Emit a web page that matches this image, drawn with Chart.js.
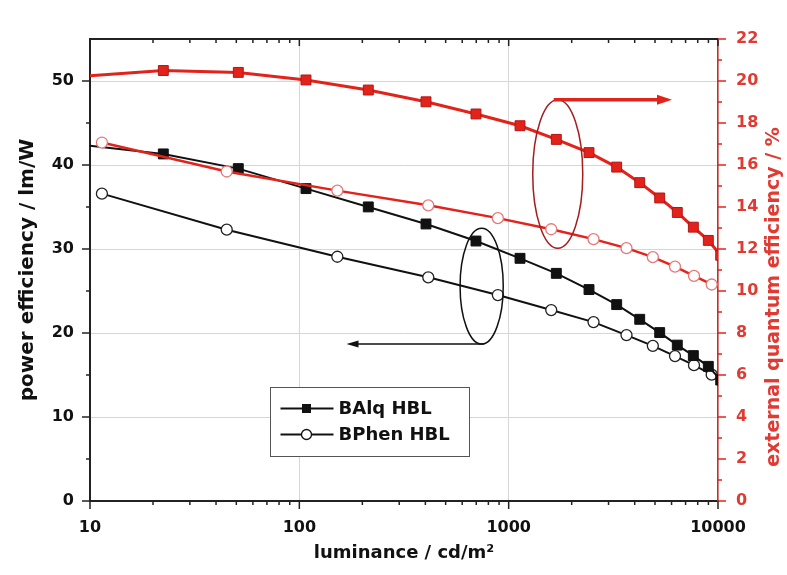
<!DOCTYPE html>
<html><head><meta charset="utf-8">
<script src="https://cdn.jsdelivr.net/npm/chart.js@4.4.1/dist/chart.umd.min.js"></script>
<style>html,body{margin:0;padding:0;background:#fff}#wrap{width:787px;height:575px;position:relative}</style>
</head><body><div id="wrap"><canvas id="c" width="787" height="575"></canvas></div>
<script>
// ---- data ----
const balqLum  = [6, 22.4, 51.1, 107.6, 213.5, 402.8, 698, 1133, 1689, 2420, 3281, 4227, 5266, 6391, 7624, 8989, 10300];
const balqPE   = [42.9, 41.32, 39.57, 37.19, 35.01, 32.98, 30.95, 28.89, 27.10, 25.17, 23.38, 21.63, 20.05, 18.56, 17.31, 16.03, 14.4];
const balqEQE  = [20.1, 20.50, 20.41, 20.05, 19.57, 19.01, 18.43, 17.87, 17.22, 16.59, 15.90, 15.16, 14.43, 13.74, 13.04, 12.41, 11.7];
const bphenLum = [11.4, 45.0, 151.9, 413, 888, 1597, 2543, 3655, 4883, 6231, 7680, 9331];
const bphenPE  = [36.59, 32.30, 29.08, 26.63, 24.52, 22.73, 21.30, 19.75, 18.47, 17.25, 16.17, 15.04];
const bphenEQE = [17.07, 15.69, 14.78, 14.08, 13.47, 12.94, 12.47, 12.04, 11.61, 11.16, 10.72, 10.31];
const xTickValues = [10, 100, 1000, 10000];
const yTickValues = [0, 10, 20, 30, 40, 50];
const y2TickValues = [0, 2, 4, 6, 8, 10, 12, 14, 16, 18, 20, 22];
const legendLabels = ['BAlq HBL', 'BPhen HBL'];
const xTitle = 'luminance / cd/m\u00b2';
const yTitle = 'power efficiency / lm/W';
const y2Title = 'external quantum efficiency / %';

// ---- annotation anchors (data units) ----
const redEllipse = {xMin: 1303, xMax: 2259, yMin: 12.04, yMax: 19.11};
const redArrowEnd = 6030;
const blackEllipse = {xMin: 586, xMax: 942, yMin: 18.68, yMax: 32.47};
const blackArrowEnd = 168;

// ---- styles ----
const FONT = 'DejaVu Sans';
const RED = '#e2231b';
const RED_TEXT = '#e03a33';
const BLACK = '#111111';
const pts = (xs, ys) => xs.map((x, i) => ({x: x, y: ys[i]}));

function line(ctx, x1, y1, x2, y2) { ctx.beginPath(); ctx.moveTo(x1, y1); ctx.lineTo(x2, y2); ctx.stroke(); }

const extras = {
  id: 'extras',
  afterDatasetsDraw(chart) {
    const {ctx, chartArea: a, scales: {x, y, y2}} = chart;
    ctx.save();
    // red ellipse + arrow
    let l = x.getPixelForValue(redEllipse.xMin), r = x.getPixelForValue(redEllipse.xMax);
    let t = y2.getPixelForValue(redEllipse.yMax), b = y2.getPixelForValue(redEllipse.yMin);
    let cx = (l + r) / 2, cy = (t + b) / 2;
    ctx.strokeStyle = '#a51d1d'; ctx.lineWidth = 1.5;
    ctx.beginPath(); ctx.ellipse(cx, cy, (r - l) / 2, (b - t) / 2, 0, 0, Math.PI * 2); ctx.stroke();
    let ex = x.getPixelForValue(redArrowEnd);
    ctx.strokeStyle = RED; ctx.fillStyle = RED; ctx.lineWidth = 3.5;
    line(ctx, cx - 4, t, ex - 12, t);
    ctx.beginPath(); ctx.moveTo(ex, t); ctx.lineTo(ex - 15, t - 5); ctx.lineTo(ex - 15, t + 5); ctx.closePath(); ctx.fill();
    // black ellipse + arrow
    l = x.getPixelForValue(blackEllipse.xMin); r = x.getPixelForValue(blackEllipse.xMax);
    t = y.getPixelForValue(blackEllipse.yMax); b = y.getPixelForValue(blackEllipse.yMin);
    cx = (l + r) / 2; cy = (t + b) / 2;
    ctx.strokeStyle = BLACK; ctx.fillStyle = BLACK; ctx.lineWidth = 1.5;
    ctx.beginPath(); ctx.ellipse(cx, cy, (r - l) / 2, (b - t) / 2, 0, 0, Math.PI * 2); ctx.stroke();
    ex = x.getPixelForValue(blackArrowEnd);
    line(ctx, cx + 2, b, ex + 8, b);
    ctx.beginPath(); ctx.moveTo(ex, b); ctx.lineTo(ex + 12, b - 3.5); ctx.lineTo(ex + 12, b + 3.5); ctx.closePath(); ctx.fill();

    // legend (black series only)
    const lg = {left: a.left + 180.5, top: 387.5, w: 199, h: 69};
    ctx.fillStyle = '#fff'; ctx.fillRect(lg.left, lg.top, lg.w, lg.h);
    ctx.strokeStyle = '#555'; ctx.lineWidth = 1; ctx.strokeRect(lg.left, lg.top, lg.w, lg.h);
    const rows = [lg.top + 21, lg.top + 47];
    ctx.font = 'bold 18px "' + FONT + '"'; ctx.textBaseline = 'middle'; ctx.textAlign = 'left';
    rows.forEach((ry, i) => {
      ctx.strokeStyle = BLACK; ctx.lineWidth = 2;
      line(ctx, lg.left + 10, ry, lg.left + 63, ry);
      const mx = lg.left + 36;
      if (i === 0) { ctx.fillStyle = BLACK; ctx.fillRect(mx - 4.5, ry - 4.5, 9, 9); }
      else { ctx.fillStyle = '#fff'; ctx.lineWidth = 1.3; ctx.beginPath(); ctx.arc(mx, ry, 5, 0, Math.PI * 2); ctx.fill(); ctx.stroke(); }
      ctx.fillStyle = BLACK; ctx.fillText(legendLabels[i], lg.left + 68, ry + 1);
    });
    ctx.restore();
  },
  afterDraw(chart) {
    const {ctx, chartArea: a, scales: {x, y, y2}} = chart;
    ctx.save();
    ctx.strokeStyle = '#222'; ctx.lineWidth = 2;
    line(ctx, a.left - 1, a.top, a.right, a.top);
    ctx.lineWidth = 1.5;
    // x ticks (bottom outward, top inward)
    xTickValues.forEach(v => { const p = x.getPixelForValue(v); line(ctx, p, a.bottom, p, a.bottom + 8); line(ctx, p, a.top, p, a.top + 7); });
    for (let d = 10; d < 10000; d *= 10) for (let m = 2; m <= 9; m++) {
      const p = x.getPixelForValue(d * m); line(ctx, p, a.bottom, p, a.bottom + 4); line(ctx, p, a.top, p, a.top + 4);
    }
    // left ticks
    yTickValues.forEach(v => { const p = y.getPixelForValue(v); line(ctx, a.left - 8, p, a.left, p); });
    for (let v = 5; v < 55; v += 10) { const p = y.getPixelForValue(v); line(ctx, a.left - 4, p, a.left, p); }
    // right ticks
    ctx.strokeStyle = RED;
    y2TickValues.forEach(v => { const p = y2.getPixelForValue(v); line(ctx, a.right, p, a.right + 8, p); });
    for (let v = 1; v < 22; v += 2) { const p = y2.getPixelForValue(v); line(ctx, a.right, p, a.right + 4, p); }
    // right title (reads bottom-to-top)
    ctx.fillStyle = RED_TEXT; ctx.font = 'bold 19px "' + FONT + '"';
    ctx.textAlign = 'center'; ctx.textBaseline = 'middle';
    ctx.translate(a.right + 56, (a.top + a.bottom) / 2 + 27); ctx.rotate(-Math.PI / 2);
    ctx.fillText(y2Title, 0, 0);
    ctx.restore();
  }
};

new Chart(document.getElementById('c'), {
  type: 'line',
  data: {
    datasets: [
      {label: 'BAlq HBL (EQE)', data: pts(balqLum, balqEQE), yAxisID: 'y2', order: 0, clip: 0,
       borderColor: RED, borderWidth: 3, pointStyle: 'rect', pointRadius: 7, pointBackgroundColor: RED, pointBorderColor: '#b51512', pointBorderWidth: 1},
      {label: 'BPhen HBL (EQE)', data: pts(bphenLum, bphenEQE), yAxisID: 'y2', order: 1, clip: 0,
       borderColor: RED, borderWidth: 2.5, pointStyle: 'circle', pointRadius: 5.5, pointBackgroundColor: '#fff', pointBorderColor: '#e87777', pointBorderWidth: 1.3},
      {label: legendLabels[0], data: pts(balqLum, balqPE), yAxisID: 'y', order: 2, clip: 0,
       borderColor: BLACK, borderWidth: 2, pointStyle: 'rect', pointRadius: 7, pointBackgroundColor: BLACK, pointBorderColor: BLACK, pointBorderWidth: 1},
      {label: legendLabels[1], data: pts(bphenLum, bphenPE), yAxisID: 'y', order: 3, clip: 0,
       borderColor: BLACK, borderWidth: 2, pointStyle: 'circle', pointRadius: 5.5, pointBackgroundColor: '#fff', pointBorderColor: '#222', pointBorderWidth: 1.3}
    ]
  },
  options: {
    responsive: false, animation: false, devicePixelRatio: 1,
    layout: {padding: {top: 39, left: 0, right: 0, bottom: 0}},
    plugins: {legend: {display: false}, tooltip: {enabled: false}},
    scales: {
      x: {
        type: 'logarithmic', position: 'bottom', min: 10, max: 10000,
        afterBuildTicks: s => { s.ticks = xTickValues.map(v => ({value: v})); },
        afterFit: s => { s.height = 74; },
        ticks: {callback: v => String(v), autoSkip: false, maxRotation: 0, padding: 17, color: BLACK, font: {family: FONT, size: 16, weight: 'bold'}},
        grid: {color: '#d6d6d6', lineWidth: 1, drawTicks: false},
        border: {color: '#222', width: 2},
        title: {display: true, text: xTitle, color: BLACK, font: {family: FONT, size: 18, weight: 'bold'}, padding: {top: 0, bottom: 11}}
      },
      y: {
        type: 'linear', position: 'left', min: 0, max: 55,
        afterBuildTicks: s => { s.ticks = yTickValues.map(v => ({value: v})); },
        afterFit: s => { s.width = 90; },
        ticks: {padding: 16, color: BLACK, font: {family: FONT, size: 16, weight: 'bold'}},
        grid: {color: '#d6d6d6', lineWidth: 1, drawTicks: false},
        border: {color: '#222', width: 2},
        title: {display: true, text: yTitle, color: BLACK, font: {family: FONT, size: 20, weight: 'bold'}, padding: {top: 16, bottom: 0}}
      },
      y2: {
        type: 'linear', position: 'right', min: 0, max: 22,
        afterBuildTicks: s => { s.ticks = y2TickValues.map(v => ({value: v})); },
        afterFit: s => { s.width = 69; },
        ticks: {padding: 18, color: RED_TEXT, font: {family: FONT, size: 16, weight: 'bold'}},
        grid: {drawOnChartArea: false, drawTicks: false},
        border: {color: RED, width: 1.5},
        title: {display: false}
      }
    }
  },
  plugins: [extras]
});
</script></body></html>
